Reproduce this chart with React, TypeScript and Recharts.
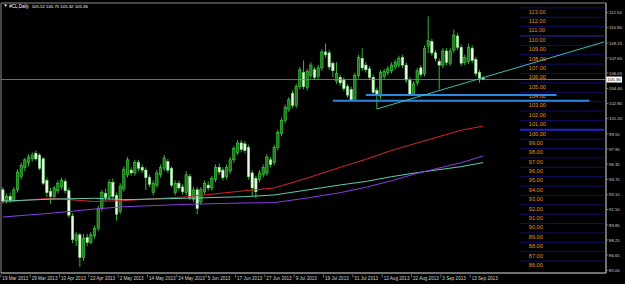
import React from "react";
import {
  ComposedChart,
  Bar,
  Line,
  XAxis,
  YAxis,
  ReferenceLine,
  ReferenceArea,
  Customized,
} from "recharts";

// daily candles, 19 Mar 2013 .. 18 Sep 2013
const opens = [
  93.6, 92.4, 92.9, 92.6, 93.6, 95.0, 96.0, 96.5, 96.9, 97.5, 97.3, 96.9, 94.6, 93.4, 92.9, 93.5, 93.9, 94.5, 93.5, 90.8,
  88.2, 88.8, 86.4, 88.5, 88.0, 88.7, 89.5, 91.6, 93.2, 92.8, 94.4, 93.0, 91.3, 93.7, 95.2, 95.7, 95.4, 96.5, 96.0, 95.7,
  94.9, 93.3, 94.1, 95.2, 95.9, 96.6, 95.9, 93.3, 94.3, 93.9, 93.3, 95.0, 92.6, 93.6, 92.3, 93.4, 94.1, 93.8, 94.7, 96.0,
  95.7, 95.0, 95.6, 96.8, 97.6, 98.6, 98.5, 98.1, 95.4, 94.8, 94.7, 95.2, 95.4, 96.8, 96.5, 98.1, 99.6, 101.0, 102.2, 103.9,
  102.6, 104.6, 106.1, 104.5, 105.8, 106.4, 105.7, 106.6, 108.3, 108.2, 107.1, 105.2, 105.6, 105.3, 104.6, 104.3, 103.3, 105.8, 107.6, 106.9,
  106.5, 105.6, 104.2, 103.6, 105.7, 106.1, 106.3, 106.7, 106.9, 107.7, 106.9, 105.3, 103.8, 105.0, 106.6, 106.0, 108.9, 109.4, 108.2, 107.3,
  106.9, 108.4, 107.1, 108.5, 110.0, 108.8, 107.2, 107.3, 108.7, 107.5, 106.1, 105.52,
];
const highs = [
  93.9, 93.2, 93.3, 93.9, 95.8, 96.5, 97.0, 97.4, 97.6, 97.8, 97.5, 97.1, 94.9, 93.8, 94.0, 94.6, 94.9, 94.8, 93.8, 91.1,
  89.1, 89.0, 88.9, 88.9, 89.1, 89.8, 91.9, 93.6, 93.7, 94.7, 94.8, 93.3, 94.3, 96.1, 97.1, 96.0, 96.8, 96.8, 96.3, 96.0,
  95.2, 94.6, 95.7, 96.3, 97.3, 96.9, 96.1, 94.6, 94.6, 94.2, 95.6, 95.3, 93.9, 93.9, 93.9, 94.6, 94.5, 95.1, 96.3, 96.4,
  96.0, 96.3, 97.1, 98.3, 98.9, 98.9, 98.8, 98.4, 95.7, 95.1, 95.7, 96.3, 97.4, 97.1, 98.4, 100.0, 101.3, 102.7, 103.5, 104.2,
  104.9, 106.7, 107.4, 106.5, 107.2, 106.7, 106.9, 108.6, 109.2, 108.5, 107.3, 107.2, 105.9, 105.6, 104.9, 104.6, 106.1, 108.0, 108.7, 107.2,
  106.8, 105.9, 104.5, 106.4, 106.5, 106.8, 107.2, 107.5, 107.9, 108.0, 107.2, 105.6, 105.2, 106.6, 106.9, 109.0, 112.1, 109.7, 108.5, 107.6,
  108.7, 108.7, 108.7, 110.7, 110.3, 109.1, 108.0, 109.2, 109.0, 107.8, 106.4, 105.75,
];
const lows = [
  92.1, 92.1, 92.2, 92.3, 93.3, 94.7, 95.6, 96.1, 96.6, 96.7, 95.7, 94.1, 92.8, 92.1, 92.6, 93.2, 93.6, 93.2, 90.6, 87.9,
  87.6, 85.4, 86.0, 87.6, 87.8, 88.4, 89.2, 91.3, 92.4, 92.5, 92.6, 90.3, 91.0, 93.4, 94.9, 95.1, 95.1, 95.6, 95.4, 93.6,
  93.9, 93.0, 93.8, 94.9, 95.6, 95.4, 93.9, 93.0, 93.5, 93.1, 93.0, 92.5, 92.3, 91.0, 92.0, 93.1, 93.5, 93.5, 94.4, 95.2,
  94.6, 94.7, 95.3, 96.5, 97.3, 97.6, 97.5, 94.7, 92.9, 92.7, 94.4, 94.9, 95.1, 96.0, 96.2, 97.8, 99.3, 100.7, 101.9, 102.3,
  102.3, 104.3, 104.3, 104.2, 105.5, 105.3, 105.4, 106.3, 107.7, 106.4, 105.6, 104.9, 104.7, 104.1, 103.4, 103.1, 103.0, 105.5, 106.3, 106.1,
  105.3, 103.7, 102.2, 103.3, 105.4, 105.8, 106.0, 106.4, 106.6, 106.6, 105.0, 103.6, 103.6, 104.7, 105.6, 105.7, 108.2, 107.9, 107.3, 104.3,
  106.6, 106.9, 106.8, 108.2, 108.5, 106.8, 106.9, 107.0, 107.1, 105.7, 105.0, 105.32,
];
const closes = [
  92.4, 92.9, 92.5, 93.6, 95.5, 96.2, 96.8, 97.1, 97.3, 96.9, 95.9, 94.3, 93.3, 92.9, 93.8, 94.3, 94.6, 93.5, 90.9, 88.3,
  88.8, 86.4, 88.4, 88.0, 88.8, 89.5, 91.6, 93.3, 92.8, 94.4, 92.9, 91.0, 94.0, 95.8, 96.8, 95.4, 96.5, 95.9, 95.7, 94.9,
  94.2, 94.3, 95.4, 96.0, 97.0, 95.7, 94.1, 94.3, 93.8, 93.4, 95.2, 92.8, 93.6, 91.6, 93.6, 94.3, 93.8, 94.8, 96.0, 95.5,
  94.9, 96.0, 96.8, 98.0, 98.6, 97.9, 97.8, 95.0, 93.8, 93.4, 95.4, 96.0, 97.1, 96.3, 98.1, 99.7, 101.0, 102.4, 103.2, 102.6,
  104.6, 106.4, 104.6, 106.2, 106.9, 105.6, 106.6, 108.3, 108.0, 106.7, 106.3, 106.0, 105.0, 104.4, 103.7, 103.2, 105.8, 107.7, 106.6, 106.4,
  105.6, 104.0, 103.7, 106.1, 106.2, 106.5, 106.9, 107.2, 107.6, 106.9, 105.3, 103.8, 104.9, 106.3, 105.9, 108.7, 109.5, 108.2, 107.6, 106.9,
  108.4, 107.2, 108.4, 110.1, 108.8, 107.1, 107.7, 108.8, 107.4, 106.0, 105.5, 105.36,
];

// time axis: one label every 8 bars
const tickIdx = [0, 8, 16, 24, 32, 40, 48, 56, 64, 72, 80, 88, 96, 104, 112, 120, 128];
const tickLabels = [
  "19 Mar 2013", "29 Mar 2013", "10 Apr 2013", "22 Apr 2013", "2 May 2013", "14 May 2013",
  "24 May 2013", "5 Jun 2013", "17 Jun 2013", "27 Jun 2013", "9 Jul 2013", "19 Jul 2013",
  "31 Jul 2013", "12 Aug 2013", "22 Aug 2013", "3 Sep 2013", "13 Sep 2013",
];

// price scale on the right
const priceTicks = [
  85.0, 86.65, 88.25, 89.85, 91.5, 93.1, 94.7, 96.35, 97.95, 99.55,
  101.2, 102.8, 104.4, 106.05, 107.65, 109.25, 110.9, 112.5,
];

// round-number levels drawn at the right side
const levels = [
  86, 87, 88, 89, 90, 91, 92, 93, 94, 95, 96, 97, 98, 99, 100,
  101, 102, 103, 104, 105, 106, 107, 108, 109, 110, 111, 112, 113,
];

// moving averages read at a few bars
const maIdx = [0, 13, 25, 33, 50, 66, 74, 83, 92, 99, 106, 113, 125, 131];
const maRed = [92.3, 92.7, 92.35, 92.45, 92.85, 93.5, 93.8, 94.85, 96.0, 96.85, 97.8, 98.6, 99.95, 100.4];
const maTeal = [92.4, 92.6, 92.7, 92.55, 92.7, 92.87, 93.05, 93.58, 94.12, 94.49, 95.0, 95.43, 96.07, 96.5];
const maPurple = [90.7, 91.1, 91.55, 91.8, 92.05, 92.2, 92.23, 92.73, 93.29, 93.87, 94.57, 95.36, 96.49, 97.21];

// drawn objects
const supportPrice = [103.1, 103.71];
const supportFrom = [90, 99];
const supportTo = [160, 151];
const trendIdx = [102, 164];
const trendPrice = [102.22, 109.37];
const lastPrice = 105.36;
const headerName = "#CL,Daily";
const headerQuote = "105.52 105.75 105.32 105.36";

const SLOTS = 165;
const Y_MIN = 84.73;
const Y_MAX = 113.52;
const FONT = "'Liberation Sans', Arial, sans-serif";

const data: any[] = [];
for (let i = 0; i < SLOTS; i++) {
  const row: any = { i };
  if (i < closes.length) {
    row.o = opens[i];
    row.h = highs[i];
    row.l = lows[i];
    row.c = closes[i];
    row.range = [lows[i], highs[i]];
  }
  data.push(row);
}
maIdx.forEach((idx, k) => {
  data[idx].red = maRed[k];
  data[idx].teal = maTeal[k];
  data[idx].purple = maPurple[k];
});

function Candle(props: any) {
  const { x, y, width, height, payload } = props;
  if (!payload || payload.h == null) return null;
  const top = Math.min(y, y + height);
  const bot = Math.max(y, y + height);
  const span = payload.h - payload.l;
  const py = (v: number) => (span > 0 ? top + ((payload.h - v) / span) * (bot - top) : top);
  const cx = x + width / 2;
  const yo = py(payload.o);
  const yc = py(payload.c);
  const bull = payload.c >= payload.o;
  const bt = Math.min(yo, yc);
  const bh = Math.max(Math.abs(yc - yo), 0.8);
  return (
    <g>
      <line x1={cx} x2={cx} y1={top} y2={bot} stroke="#3cc83c" strokeWidth={0.9} />
      <rect
        x={cx - 1.2}
        y={bt}
        width={2.4}
        height={bh}
        fill={bull ? "#1d7a1d" : "#eefbe8"}
        stroke={bull ? "#3fd03f" : "#82dc82"}
        strokeWidth={0.6}
      />
    </g>
  );
}

function TimeTick(props: any) {
  const { x, y, payload } = props;
  const k = tickIdx.indexOf(payload.value);
  return (
    <g>
      <line x1={x - 2} x2={x - 2} y1={y + 1.5} y2={y + 4.5} stroke="#b0b0b0" strokeWidth={0.6} />
      <text x={x - 0.5} y={y + 7} fontSize={4.6} fill="#d0d0d0" fontFamily={FONT}>
        {k >= 0 ? tickLabels[k] : ""}
      </text>
    </g>
  );
}

function PriceTick(props: any) {
  const { x, y, payload } = props;
  return (
    <g>
      <line x1={x + 0.5} x2={x + 2.5} y1={y} y2={y} stroke="#b0b0b0" strokeWidth={0.6} />
      <text x={x + 3} y={y + 1.6} fontSize={4.3} fill="#d0d0d0" fontFamily={FONT}>
        {Number(payload.value).toFixed(2)}
      </text>
    </g>
  );
}

const levelLabel = (v: number) => (p: any) => {
  const vb = p.viewBox || { x: 0, y: 0 };
  return (
    <text x={vb.x + 9} y={vb.y + 5.8} fontSize={5.6} fill="#e39024" fontFamily={FONT}>
      {v.toFixed(2)}
    </text>
  );
};

const priceBox = (p: any) => {
  const vb = p.viewBox || { x: 0, y: 0, width: 0 };
  const bx = vb.x + vb.width;
  return (
    <g>
      <rect x={bx} y={vb.y - 3} width={16} height={6} fill="#ffffff" />
      <text x={bx + 1.5} y={vb.y + 1.6} fontSize={4.3} fill="#000" fontFamily={FONT}>
        {lastPrice.toFixed(2)}
      </text>
    </g>
  );
};

function Header() {
  return (
    <g>
      <polygon points="4,4.6 7.2,4.6 5.6,6.8" fill="#ffffff" />
      <text x={9.3} y={7.6} fontSize={4.5} fill="#ffffff" fontFamily={FONT}>
        {headerName}
      </text>
      <text x={31.7} y={7.6} fontSize={4.3} fill="#ffffff" fontFamily={FONT}>
        {headerQuote}
      </text>
    </g>
  );
}

export default function App() {
  return (
    <div style={{ position: "fixed", left: 0, top: 0, width: 625, height: 284, background: "#000" }}>
      <ComposedChart width={625} height={284} data={data} margin={{ top: 3, right: 0, bottom: 0, left: 1 }}>
        <XAxis
          dataKey="i"
          type="category"
          ticks={tickIdx}
          interval={0}
          height={11}
          tickSize={0}
          tickMargin={0}
          tickLine={false}
          axisLine={{ stroke: "#9a9a9a" }}
          tick={<TimeTick />}
        />
        <YAxis
          orientation="right"
          width={19}
          type="number"
          domain={[Y_MIN, Y_MAX]}
          allowDataOverflow
          ticks={priceTicks}
          interval={0}
          tickSize={0}
          tickMargin={0}
          tickLine={false}
          axisLine={{ stroke: "#9a9a9a" }}
          tick={<PriceTick />}
        />
        <ReferenceArea y1={Y_MIN} y2={Y_MAX} fill="none" stroke="#8c8c8c" strokeWidth={1} ifOverflow="visible" />
        {levels.map((v) => (
          <ReferenceLine
            key={`lv-${v}`}
            segment={[{ x: 141, y: v }, { x: 164, y: v }]}
            stroke={v === 100 ? "#2222d0" : v === 110 ? "#2a2ab0" : "#0f0f66"}
            strokeWidth={v === 100 ? 2 : 1}
            label={levelLabel(v)}
            ifOverflow="visible"
          />
        ))}
        <ReferenceLine y={lastPrice} stroke="#8a8a8a" strokeWidth={0.8} label={priceBox} />
        <Line dataKey="red" stroke="#d4262e" strokeWidth={1} dot={false} activeDot={false} connectNulls isAnimationActive={false} />
        <Line dataKey="teal" stroke="#5ccfae" strokeWidth={1} dot={false} activeDot={false} connectNulls isAnimationActive={false} />
        <Line dataKey="purple" stroke="#8a3ee0" strokeWidth={1} dot={false} activeDot={false} connectNulls isAnimationActive={false} />
        <Bar dataKey="range" shape={<Candle />} isAnimationActive={false} />
        {supportPrice.map((v, k) => (
          <ReferenceLine
            key={`sp-${k}`}
            segment={[{ x: supportFrom[k], y: v }, { x: supportTo[k], y: v }]}
            stroke="#2f86e0"
            strokeWidth={2}
          />
        ))}
        <ReferenceLine
          segment={[{ x: trendIdx[0], y: trendPrice[0] }, { x: trendIdx[1], y: trendPrice[1] }]}
          stroke="#3cbfb0"
          strokeWidth={1}
        />
        <Customized component={Header} />
      </ComposedChart>
    </div>
  );
}
